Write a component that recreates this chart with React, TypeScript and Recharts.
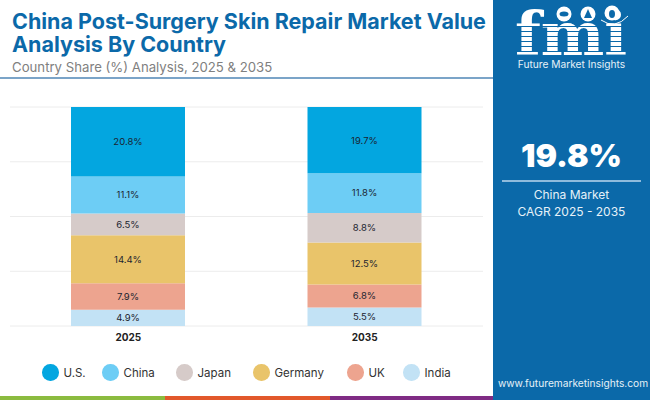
import { BarChart, Bar, XAxis, YAxis, CartesianGrid, LabelList, Legend } from "recharts";

const years = ["2025", "2035"];
const usShare = [20.8, 19.7];
const chinaShare = [11.1, 11.8];
const japanShare = [6.5, 8.8];
const germanyShare = [14.4, 12.5];
const ukShare = [7.9, 6.8];
const indiaShare = [4.9, 5.5];

const FONT = "Inter, 'Noto Sans', sans-serif";
const BLUE = "#0b69a9";

// bottom of the stack first
const series = [
  { key: "India", values: indiaShare, color: "#c2e2f5" },
  { key: "UK", values: ukShare, color: "#eda48f" },
  { key: "Germany", values: germanyShare, color: "#e9c46a" },
  { key: "Japan", values: japanShare, color: "#d6cbc9" },
  { key: "China", values: chinaShare, color: "#6dcdf5" },
  { key: "U.S.", values: usShare, color: "#03a6e0" },
];

const legendItems = [...series].reverse();
const legendLefts = [42, 102, 176, 253, 347, 403];

const tableData = years.map((year, i) => {
  const row: Record<string, string | number> = { year };
  series.forEach((s) => {
    row[s.key] = s.values[i];
  });
  return row;
});

function ChartLegend() {
  return (
    <div style={{ position: "relative", height: 18, fontFamily: FONT, fontSize: 11.5, color: "#333" }}>
      {legendItems.map((s, i) => (
        <div key={s.key} style={{ position: "absolute", left: legendLefts[i], top: 0, display: "flex", alignItems: "center", height: 17 }}>
          <span style={{ width: 16.5, height: 16.5, borderRadius: "50%", background: s.color, marginRight: 5 }} />
          <span>{s.key}</span>
        </div>
      ))}
    </div>
  );
}

function Logo() {
  const stripes = [26, 31, 36, 41, 46, 51];
  return (
    <svg width={157} height={72} style={{ position: "absolute", left: 0, top: 0 }}>
      <text x={78} y={55} textAnchor="middle" fontFamily="'DejaVu Serif', serif" fontWeight={700} fontSize={60} fill="#fff">
        fmi
      </text>
      {stripes.map((y) => (
        <rect key={y} x={20} y={y} width={118} height={1} fill={BLUE} />
      ))}
      <circle cx={71} cy={14} r={7.5} fill="#fff" />
      <circle cx={95} cy={14} r={7.5} fill="#fff" />
      <circle cx={119} cy={13} r={7.5} fill="#fff" />
      <ellipse cx={71} cy={14} rx={4.5} ry={2.5} fill={BLUE} />
      <path d="M95 9 L99 18 L91 18 Z" fill={BLUE} />
      <ellipse cx={119} cy={14} rx={3} ry={4} fill={BLUE} />
      <path d="M108 20 Q122 30 135 16" fill="none" stroke="#fff" strokeWidth={1} />
    </svg>
  );
}

export default function App() {
  return (
    <div style={{ position: "absolute", left: 0, top: 0, width: 650, height: 400, background: "#fff", overflow: "hidden", fontFamily: FONT }}>
      <div style={{ position: "absolute", left: 12, top: 10, width: 481, fontSize: 21.5, lineHeight: "23px", fontWeight: 700, color: BLUE, whiteSpace: "nowrap" }}>
        China Post-Surgery Skin Repair Market Value
        <br />
        Analysis By Country
      </div>
      <div style={{ position: "absolute", left: 12, top: 59, fontSize: 13.2, color: "#808080", whiteSpace: "nowrap" }}>
        Country Share (%) Analysis, 2025 &amp; 2035
      </div>
      <div style={{ position: "absolute", left: 0, top: 77, width: 493, height: 1.5, background: "#7ba4c8" }} />

      <div style={{ position: "absolute", left: 0, top: 0 }}>
        <BarChart
          width={493}
          height={385}
          data={tableData}
          stackOffset="expand"
          margin={{ top: 107, right: 10, bottom: 0, left: 10 }}
        >
          <CartesianGrid vertical={false} stroke="#ececec" />
          <XAxis
            dataKey="year"
            axisLine={false}
            tickLine={false}
            tick={{ fontSize: 10, fontWeight: 700, fill: "#222", fontFamily: FONT }}
            height={41}
            tickMargin={2}
          />
          <YAxis hide domain={[0, 1]} ticks={[0, 0.25, 0.5, 0.75, 1]} />
          {series.map((s) => (
            <Bar key={s.key} dataKey={s.key} stackId="share" fill={s.color} barSize={114} isAnimationActive={false}>
              <LabelList
                dataKey={s.key}
                position="center"
                formatter={(v: number) => `${v}%`}
                style={{ fontSize: 9.5, fill: "#1c2430", fontFamily: FONT }}
              />
            </Bar>
          ))}
          <Legend
            content={<ChartLegend />}
            wrapperStyle={{ left: 0, top: 364, width: 493, height: 18 }}
          />
        </BarChart>
      </div>

      <div style={{ position: "absolute", left: 0, top: 396, width: 165, height: 4, background: "#8bbb3f" }} />
      <div style={{ position: "absolute", left: 165, top: 396, width: 165, height: 4, background: "#e2582b" }} />
      <div style={{ position: "absolute", left: 330, top: 396, width: 163, height: 4, background: "#7f2b84" }} />

      <div style={{ position: "absolute", left: 493, top: 0, width: 157, height: 400, background: BLUE, color: "#fff" }}>
        <Logo />
        <div style={{ position: "absolute", left: 0, width: 157, top: 57, textAlign: "center", fontSize: 10.2, lineHeight: "14px", color: "#e6f1f8" }}>
          Future Market Insights
        </div>
        <div style={{ position: "absolute", left: 0, width: 157, top: 134, textAlign: "center", fontSize: 32, lineHeight: "44px", fontWeight: 900 }}>
          19.8%
        </div>
        <div style={{ position: "absolute", left: 9, top: 180, width: 139, height: 1.5, background: "#8fbbdc" }} />
        <div style={{ position: "absolute", left: 0, width: 157, top: 186, textAlign: "center", fontSize: 12, lineHeight: "17px", color: "#e6f1f8" }}>
          China Market
          <br />
          CAGR 2025 - 2035
        </div>
        <div style={{ position: "absolute", left: 1.5, width: 157, top: 377, textAlign: "center", fontSize: 10.2, color: "#e6f1f8" }}>
          www.futuremarketinsights.com
        </div>
      </div>
    </div>
  );
}
